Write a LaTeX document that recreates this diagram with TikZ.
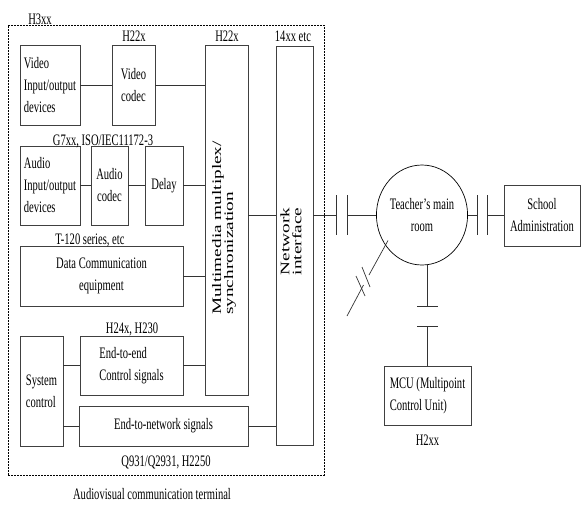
\documentclass[tikz,border=0pt]{standalone}
\usepackage{fontspec}
\setmainfont{Liberation Serif}
\newfontfamily\condf[FakeStretch=0.66]{Liberation Serif}
\newfontfamily\widef[FakeStretch=1.48]{Liberation Serif}
\usetikzlibrary{shapes.geometric}
\begin{document}
\begin{tikzpicture}[x=1pt,y=-1pt,
  box/.style={draw=black!75, line width=0.7pt, inner sep=0pt, font=\condf\fontsize{16}{22}\selectfont},
  lbl/.style={font=\condf\fontsize{16}{18}\selectfont, inner sep=0pt},
  rot/.style={rotate=90, align=left, inner sep=0pt, font=\widef\fontsize{13}{12}\selectfont},
  wire/.style={draw=black!80, line width=0.7pt},
  brk/.style={draw=black!80, line width=0.7pt},
  frame/.style={draw=black, line width=1pt, dash pattern=on 2pt off 1pt}]
\useasboundingbox (0,0) rectangle (581,504);
% terminal frame
\node[frame, minimum width=316pt, minimum height=450pt, inner sep=0pt] (frm) at (166,250) {};
% boxes
\node[box, minimum width=60pt, minimum height=80pt, align=left] (vio) at (50,85) {Video\\Input/output\\devices};
\node[box, minimum width=43pt, minimum height=80pt, align=center] (vcod) at (133.5,85) {Video\\codec};
\node[box, minimum width=43pt, minimum height=350pt] (mux) at (226.5,220) {};
\node[box, minimum width=37pt, minimum height=399pt] (net) at (294.5,245.5) {};
\node[box, minimum width=60pt, minimum height=79pt, align=left] (aio) at (50,185.5) {Audio\\Input/output\\devices};
\node[box, minimum width=37pt, minimum height=79pt, align=center] (acod) at (109.5,185.5) {Audio\\codec};
\node[box, minimum width=38pt, minimum height=79pt] (delay) at (164,185.5) {Delay};
\node[box, minimum width=163pt, minimum height=60pt, align=center] (data) at (101.5,276) {Data Communication\\equipment};
\node[box, minimum width=43pt, minimum height=110pt, align=left] (sys) at (41.5,391) {System\\control};
\node[box, minimum width=103pt, minimum height=59pt, align=left] (e2e) at (131.5,365.5) {End-to-end\\Control signals};
\node[box, minimum width=169pt, minimum height=40pt] (e2n) at (163.5,426) {End-to-network signals};
\node[box, ellipse, minimum width=76pt, minimum height=100pt, align=center, draw=black] (teach) at (422,215) {Teacher’s main\\room};
\node[box, minimum width=76pt, minimum height=61pt, align=center] (school) at (542,215.5) {School\\Administration};
\node[box, minimum width=87pt, minimum height=59pt, align=left] (mcu) at (427.5,395.5) {MCU (Multipoint\\Control Unit)};
% rotated texts
\node[rot] (muxt) at (224,228) {Multimedia multiplex/\\synchronization};
\node[rot] (nett) at (291,241.5) {Network\\interface};
% labels
\node[lbl] (l1) at (40,19) {H3xx};
\node[lbl] (l2) at (134,36) {H22x};
\node[lbl] (l3) at (227,36) {H22x};
\node[lbl] (l4) at (293,36) {14xx etc};
\node[lbl] (l5) at (103,141) {G7xx, ISO/IEC11172-3};
\node[lbl] (l6) at (90,240) {T-120 series, etc};
\node[lbl] (l7) at (132,329) {H24x, H230};
\node[lbl] (l8) at (166,462) {Q931/Q2931, H2250};
\node[lbl] (l9) at (152,494) {Audiovisual communication terminal};
\node[lbl] (l10) at (427.5,440) {H2xx};
% connectors inside terminal
\draw[wire] (vio.east) -- (vcod.west);
\draw[wire] (vcod.east) -- (mux.west |- vcod.east);
\draw[wire] (aio.east) -- (acod.west);
\draw[wire] (acod.east) -- (delay.west);
\draw[wire] (delay.east) -- (mux.west |- delay.east);
\draw[wire] (data.east) -- (mux.west |- data.east);
\draw[wire] (sys.east |- e2e.west) -- (e2e.west);
\draw[wire] (e2e.east) -- (mux.west |- e2e.east);
\draw[wire] (sys.east |- e2n.west) -- (e2n.west);
\draw[wire] (e2n.east) -- (net.west |- e2n.east);
\draw[wire] (mux.east |- teach.west) -- (net.west |- teach.west);
% network to teacher with break
\coordinate (b1) at (336,215);
\coordinate (b2) at (347,215);
\draw[wire] (net.east |- teach.west) -- (b1);
\draw[wire] (b2) -- (teach.west);
\draw[brk] (336,195) -- (336,235);
\draw[brk] (347,195) -- (347,235);
% teacher to school with break
\coordinate (b3) at (477,215);
\coordinate (b4) at (487,215);
\draw[wire] (teach.east) -- (b3);
\draw[wire] (b4) -- (school.west |- b4);
\draw[brk] (477,195) -- (477,235);
\draw[brk] (487,195) -- (487,235);
% teacher to MCU with break
\coordinate (b5) at (427.5,306);
\coordinate (b6) at (427.5,326);
\draw[wire] (mcu.north |- teach.south) -- (b5);
\draw[wire] (b6) -- (mcu.north);
\draw[brk] (417,306) -- (438,306);
\draw[brk] (417,326) -- (438,326);
% diagonal link with break
\coordinate (d0) at (388,240.5);
\coordinate (d1) at (369,275);
\coordinate (d2) at (363.5,285);
\coordinate (d3) at (347,316);
\draw[wire] (d0) -- (d1);
\draw[wire] (d2) -- (d3);
\draw[brk] (362,267) -- (370,287);
\draw[brk] (356,276) -- (365,296);
\end{tikzpicture}
\end{document}
